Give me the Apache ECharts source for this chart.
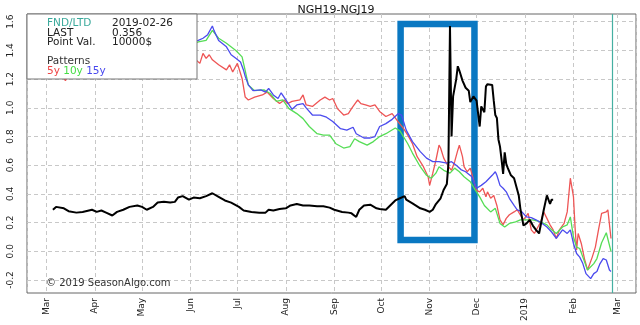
<!DOCTYPE html>
<html>
<head>
<meta charset="utf-8">
<script src="https://cdn.jsdelivr.net/npm/echarts@6/dist/echarts.min.js"></script>
<style>
  html, body { margin: 0; padding: 0; background: #fff; }
  #chart { width: 640px; height: 325px; }
</style>
</head>
<body>
<div id="chart"></div>
<script>
// NGH19-NGJ19 spread: current season vs 5y / 10y / 15y seasonal patterns
const chartTitle = 'NGH19-NGJ19';
const fndDate = '2019-02-26';
const lastValue = '0.356';
const pointValue = '10000$';
const yTicks = [-0.2, 0.0, 0.2, 0.4, 0.6, 0.8, 1.0, 1.2, 1.4, 1.6];
const highlightWindow = [['2018-10-13 10:00', 1.584], ['2018-11-29 16:00', 0.079]];

const actualSpread = [
  ['2018-03-05',0.29],['2018-03-07',0.31],['2018-03-12',0.30],['2018-03-15',0.28],['2018-03-20',0.27],
  ['2018-03-24',0.275],['2018-03-30',0.29],['2018-04-02',0.275],['2018-04-05',0.285],['2018-04-08',0.27],
  ['2018-04-12',0.25],['2018-04-15',0.275],['2018-04-19',0.29],['2018-04-23',0.31],['2018-04-28',0.32],
  ['2018-05-01',0.31],['2018-05-04',0.29],['2018-05-08',0.31],['2018-05-11',0.34],['2018-05-15',0.345],
  ['2018-05-19',0.34],['2018-05-22',0.345],['2018-05-24',0.375],['2018-05-27',0.385],['2018-05-31',0.36],
  ['2018-06-03',0.375],['2018-06-07',0.37],['2018-06-11',0.385],['2018-06-15',0.405],['2018-06-19',0.38],
  ['2018-06-23',0.355],['2018-06-27',0.34],['2018-07-02',0.31],['2018-07-05',0.285],['2018-07-10',0.275],
  ['2018-07-15',0.27],['2018-07-19',0.27],['2018-07-21',0.29],['2018-07-24',0.285],['2018-07-28',0.295],
  ['2018-08-01',0.30],['2018-08-04',0.32],['2018-08-08',0.33],['2018-08-12',0.32],['2018-08-16',0.32],
  ['2018-08-21',0.315],['2018-08-25',0.315],['2018-08-29',0.305],['2018-09-01',0.29],['2018-09-06',0.275],
  ['2018-09-10',0.27],['2018-09-12',0.265],['2018-09-15',0.24],['2018-09-17',0.29],['2018-09-20',0.32],
  ['2018-09-24',0.325],['2018-09-28',0.30],['2018-09-30',0.295],['2018-10-04',0.29],['2018-10-10',0.355],
  ['2018-10-13',0.37],['2018-10-16',0.385],['2018-10-17',0.36],['2018-10-21',0.335],['2018-10-26',0.30],
  ['2018-10-29',0.29],['2018-11-01',0.275],['2018-11-03',0.29],['2018-11-05',0.33],['2018-11-08',0.37],
  ['2018-11-10',0.43],['2018-11-12',0.47],['2018-11-13',0.61],['2018-11-14',1.57],['2018-11-15',0.80],
  ['2018-11-16',1.08],['2018-11-18',1.20],['2018-11-19',1.29],['2018-11-20',1.26],['2018-11-22',1.19],
  ['2018-11-24',1.14],['2018-11-26',1.12],['2018-11-27',1.04],['2018-11-29',1.08],['2018-12-01',1.05],
  ['2018-12-03',0.87],['2018-12-04',1.01],['2018-12-05',1.02],['2018-12-06',0.97],['2018-12-07',1.15],
  ['2018-12-08',1.165],['2018-12-11',1.16],['2018-12-12',1.05],['2018-12-13',0.95],['2018-12-14',0.93],
  ['2018-12-15',0.78],['2018-12-16',0.73],['2018-12-17',0.64],['2018-12-18',0.54],['2018-12-19',0.69],
  ['2018-12-20',0.61],['2018-12-21',0.58],['2018-12-23',0.53],['2018-12-25',0.51],['2018-12-27',0.43],
  ['2018-12-28',0.39],['2018-12-29',0.30],['2018-12-31',0.18],['2019-01-02',0.195],['2019-01-04',0.22],
  ['2019-01-06',0.18],['2019-01-08',0.15],['2019-01-10',0.125],['2019-01-11',0.18],['2019-01-13',0.29],
  ['2019-01-15',0.39],['2019-01-16',0.40],['2019-01-17',0.33],['2019-01-18',0.36],['2019-01-19',0.36]
];

const pattern5y = [
  ['2018-03-01',1.32],['2018-03-06',1.28],['2018-03-10',1.24],['2018-03-13',1.19],['2018-03-17',1.27],
  ['2018-03-24',1.33],['2018-03-31',1.36],['2018-04-07',1.31],['2018-04-14',1.35],['2018-04-21',1.38],
  ['2018-04-28',1.33],['2018-05-05',1.36],['2018-05-12',1.40],['2018-05-19',1.35],['2018-05-26',1.32],
  ['2018-06-02',1.36],['2018-06-07',1.31],['2018-06-09',1.38],['2018-06-11',1.345],['2018-06-13',1.37],
  ['2018-06-15',1.335],['2018-06-19',1.30],['2018-06-24',1.265],['2018-06-26',1.30],['2018-06-28',1.25],
  ['2018-07-01',1.31],['2018-07-04',1.205],['2018-07-06',1.075],['2018-07-08',1.055],['2018-07-12',1.075],
  ['2018-07-17',1.09],['2018-07-20',1.11],['2018-07-24',1.065],['2018-07-28',1.03],['2018-07-31',1.055],
  ['2018-08-02',1.03],['2018-08-05',1.045],['2018-08-10',1.055],['2018-08-12',1.09],['2018-08-14',1.02],
  ['2018-08-18',1.01],['2018-08-23',1.055],['2018-08-26',1.075],['2018-08-29',1.055],['2018-08-31',1.065],
  ['2018-09-03',0.995],['2018-09-07',0.95],['2018-09-10',0.96],['2018-09-12',0.995],['2018-09-16',1.055],
  ['2018-09-18',1.03],['2018-09-21',1.02],['2018-09-24',1.01],['2018-09-27',1.02],['2018-09-30',0.975],
  ['2018-10-04',0.94],['2018-10-08',0.96],['2018-10-12',0.90],['2018-10-15',0.86],['2018-10-18',0.81],
  ['2018-10-21',0.75],['2018-10-24',0.66],['2018-10-28',0.59],['2018-10-31',0.52],['2018-11-01',0.46],
  ['2018-11-03',0.545],['2018-11-05',0.635],['2018-11-07',0.74],['2018-11-08',0.72],['2018-11-10',0.65],
  ['2018-11-13',0.59],['2018-11-15',0.565],['2018-11-17',0.625],['2018-11-19',0.705],['2018-11-20',0.74],
  ['2018-11-22',0.66],['2018-11-23',0.59],['2018-11-25',0.555],['2018-11-27',0.58],['2018-11-29',0.50],
  ['2018-12-01',0.425],['2018-12-03',0.415],['2018-12-05',0.44],['2018-12-07',0.38],['2018-12-08',0.415],
  ['2018-12-10',0.37],['2018-12-12',0.39],['2018-12-14',0.32],['2018-12-16',0.22],['2018-12-18',0.185],
  ['2018-12-20',0.23],['2018-12-22',0.255],['2018-12-25',0.275],['2018-12-27',0.29],['2018-12-29',0.255],
  ['2018-12-31',0.22],['2019-01-03',0.265],['2019-01-05',0.15],['2019-01-07',0.125],['2019-01-11',0.205],
  ['2019-01-13',0.275],['2019-01-15',0.23],['2019-01-17',0.185],['2019-01-19',0.15],['2019-01-21',0.09],
  ['2019-01-23',0.15],['2019-01-26',0.195],['2019-01-28',0.275],['2019-01-30',0.51],['2019-02-01',0.38],
  ['2019-02-02',0.17],['2019-02-03',0.01],['2019-02-04',0.125],['2019-02-06',0.055],['2019-02-08',-0.05],
  ['2019-02-10',-0.13],['2019-02-13',-0.04],['2019-02-15',0.03],['2019-02-17',0.15],['2019-02-19',0.265],
  ['2019-02-22',0.275],['2019-02-23',0.29],['2019-02-25',0.09]
];

const pattern10y = [
  ['2018-03-01',1.40],['2018-03-08',1.43],['2018-03-15',1.41],['2018-03-22',1.45],['2018-03-29',1.43],
  ['2018-04-05',1.40],['2018-04-12',1.39],['2018-04-19',1.42],['2018-04-26',1.45],['2018-05-03',1.42],
  ['2018-05-10',1.40],['2018-05-17',1.44],['2018-05-24',1.46],['2018-05-31',1.43],['2018-06-06',1.46],
  ['2018-06-11',1.47],['2018-06-15',1.54],['2018-06-19',1.485],['2018-06-24',1.45],['2018-06-30',1.40],
  ['2018-07-04',1.355],['2018-07-06',1.26],['2018-07-08',1.16],['2018-07-12',1.12],['2018-07-18',1.125],
  ['2018-07-22',1.10],['2018-07-26',1.045],['2018-07-30',1.055],['2018-08-03',0.995],['2018-08-08',0.96],
  ['2018-08-12',0.925],['2018-08-16',0.87],['2018-08-21',0.82],['2018-08-25',0.81],['2018-08-29',0.81],
  ['2018-09-02',0.75],['2018-09-07',0.72],['2018-09-11',0.73],['2018-09-14',0.785],['2018-09-17',0.765],
  ['2018-09-22',0.74],['2018-09-26',0.765],['2018-09-30',0.80],['2018-10-04',0.82],['2018-10-10',0.86],
  ['2018-10-13',0.84],['2018-10-18',0.75],['2018-10-21',0.685],['2018-10-26',0.59],['2018-10-30',0.53],
  ['2018-11-02',0.51],['2018-11-05',0.545],['2018-11-07',0.59],['2018-11-10',0.565],['2018-11-14',0.545],
  ['2018-11-17',0.58],['2018-11-20',0.555],['2018-11-23',0.52],['2018-11-27',0.485],['2018-11-30',0.43],
  ['2018-12-03',0.38],['2018-12-06',0.32],['2018-12-10',0.275],['2018-12-13',0.30],['2018-12-16',0.195],
  ['2018-12-19',0.17],['2018-12-22',0.195],['2018-12-26',0.205],['2018-12-29',0.22],['2019-01-02',0.22],
  ['2019-01-06',0.22],['2019-01-11',0.205],['2019-01-15',0.185],['2019-01-18',0.15],['2019-01-21',0.125],
  ['2019-01-25',0.17],['2019-01-28',0.185],['2019-01-30',0.24],['2019-02-01',0.10],['2019-02-03',0.03],
  ['2019-02-05',0.02],['2019-02-07',-0.04],['2019-02-10',-0.13],['2019-02-14',-0.085],['2019-02-16',-0.05],
  ['2019-02-19',0.06],['2019-02-22',0.13],['2019-02-23',0.14],['2019-02-25',0.0]
];

const pattern15y = [
  ['2018-03-01',1.44],['2018-03-08',1.47],['2018-03-15',1.45],['2018-03-22',1.50],['2018-03-29',1.48],
  ['2018-04-05',1.45],['2018-04-12',1.43],['2018-04-19',1.47],['2018-04-26',1.50],['2018-05-03',1.46],
  ['2018-05-10',1.44],['2018-05-17',1.48],['2018-05-24',1.50],['2018-05-31',1.46],['2018-06-06',1.47],
  ['2018-06-09',1.485],['2018-06-12',1.51],['2018-06-15',1.57],['2018-06-16',1.54],['2018-06-19',1.47],
  ['2018-06-24',1.425],['2018-06-27',1.37],['2018-06-30',1.345],['2018-07-03',1.32],['2018-07-05',1.26],
  ['2018-07-06',1.22],['2018-07-08',1.16],['2018-07-11',1.12],['2018-07-16',1.125],['2018-07-19',1.11],
  ['2018-07-21',1.135],['2018-07-24',1.09],['2018-07-27',1.065],['2018-07-29',1.105],['2018-08-01',1.055],
  ['2018-08-05',0.99],['2018-08-08',1.02],['2018-08-12',1.03],['2018-08-14',1.0],['2018-08-18',0.95],
  ['2018-08-23',0.95],['2018-08-27',0.935],['2018-08-31',0.905],['2018-09-05',0.855],['2018-09-09',0.845],
  ['2018-09-13',0.865],['2018-09-15',0.82],['2018-09-20',0.79],['2018-09-24',0.79],['2018-09-27',0.80],
  ['2018-09-30',0.87],['2018-10-04',0.89],['2018-10-08',0.92],['2018-10-12',0.96],['2018-10-14',0.95],
  ['2018-10-17',0.845],['2018-10-21',0.765],['2018-10-26',0.695],['2018-10-30',0.65],['2018-11-03',0.625],
  ['2018-11-07',0.625],['2018-11-12',0.615],['2018-11-15',0.625],['2018-11-18',0.60],['2018-11-21',0.57],
  ['2018-11-24',0.555],['2018-11-28',0.52],['2018-12-01',0.44],['2018-12-04',0.46],['2018-12-07',0.485],
  ['2018-12-11',0.53],['2018-12-13',0.555],['2018-12-14',0.53],['2018-12-16',0.46],['2018-12-18',0.44],
  ['2018-12-20',0.415],['2018-12-22',0.37],['2018-12-25',0.32],['2018-12-27',0.29],['2018-12-30',0.275],
  ['2019-01-02',0.24],['2019-01-05',0.235],['2019-01-08',0.22],['2019-01-12',0.195],['2019-01-15',0.17],
  ['2019-01-18',0.135],['2019-01-21',0.09],['2019-01-25',0.15],['2019-01-28',0.125],['2019-01-30',0.15],
  ['2019-02-01',0.055],['2019-02-03',-0.015],['2019-02-05',-0.04],['2019-02-07',-0.085],['2019-02-09',-0.155],
  ['2019-02-12',-0.19],['2019-02-14',-0.155],['2019-02-16',-0.14],['2019-02-18',-0.085],['2019-02-20',-0.05],
  ['2019-02-22',-0.06],['2019-02-24',-0.13],['2019-02-25',-0.14]
];

const FONT = 'DejaVu Sans';
const BOX_FONT = '10.5px "DejaVu Sans"';
const xMin = new Date(2018, 1, 16, 10).getTime();
const xMax = new Date(2019, 2, 13, 0).getTime();

const chart = echarts.init(document.getElementById('chart'), null, { renderer: 'canvas' });

const dashed = { color: '#c8c8c8', type: [4, 3], width: 1 };

function line(name, data, color, width, extra) {
  return Object.assign({
    name, type: 'line', data, xAxisIndex: 0, yAxisIndex: 0,
    showSymbol: false, symbol: 'none', animation: false,
    lineStyle: { color, width }, itemStyle: { color }
  }, extra || {});
}

function boxText(x, y, text, fill) {
  return { type: 'text', x, y, z: 101, zlevel: 2, style: { text, fill, font: BOX_FONT } };
}

chart.setOption({
  animation: false,
  backgroundColor: '#fff',
  title: {
    text: chartTitle, left: 331, top: 0, textAlign: 'center',
    textStyle: { fontFamily: FONT, fontSize: 11, fontWeight: 'normal', color: '#111' }
  },
  grid: [
    { left: 27, right: 4, top: 14, bottom: 32, show: true, borderColor: '#666', borderWidth: 1, backgroundColor: 'transparent' },
    { left: 27, right: 4, top: 21.7, bottom: 45, show: false }
  ],
  xAxis: [
    {
      type: 'time', gridIndex: 0, min: xMin, max: xMax, splitNumber: 13,
      minInterval: 28 * 864e5, maxInterval: 31 * 864e5,
      axisLine: { show: false }, axisTick: { show: false },
      splitLine: { show: true, lineStyle: dashed },
      axisLabel: {
        rotate: 90, margin: 5, fontFamily: FONT, fontSize: 9, color: '#222',
        formatter: (v) => {
          const d = new Date(v);
          if (d.getMonth() === 0) return String(d.getFullYear());
          return ['Jan','Feb','Mar','Apr','May','Jun','Jul','Aug','Sep','Oct','Nov','Dec'][d.getMonth()];
        }
      }
    },
    { type: 'time', gridIndex: 1, min: xMin, max: xMax, show: false }
  ],
  yAxis: [
    { type: 'value', gridIndex: 0, min: -0.29, max: 1.654, show: false, splitLine: { show: false } },
    {
      type: 'value', gridIndex: 1, min: yTicks[0], max: yTicks[yTicks.length - 1], interval: 0.2,
      axisLine: { show: false }, axisTick: { show: false },
      splitLine: { show: true, lineStyle: dashed },
      axisLabel: {
        rotate: 90, margin: 12, fontFamily: FONT, fontSize: 9, color: '#222',
        formatter: (v) => v.toFixed(1)
      }
    }
  ],
  series: [
    line('5y', pattern5y, '#ee5555', 1.3),
    line('10y', pattern10y, '#55dd55', 1.3),
    line('15y', pattern15y, '#4b4bee', 1.3),
    line('NGH19-NGJ19', actualSpread, '#000', 2, {
      markLine: {
        silent: true, symbol: 'none', label: { show: false },
        lineStyle: { color: '#45b0a2', type: 'solid', width: 1.2 },
        data: [{ xAxis: fndDate }]
      },
      markArea: {
        silent: true, label: { show: false },
        itemStyle: { color: 'rgba(0,0,0,0)', borderColor: '#0a78c2', borderWidth: 6.5 },
        data: [[{ coord: highlightWindow[0] }, { coord: highlightWindow[1] }]]
      }
    })
  ],
  graphic: [
    {
      type: 'rect', x: 27, y: 14, z: 100, zlevel: 2,
      shape: { x: 0, y: 0, width: 170, height: 65 },
      style: { fill: '#ffffff', stroke: '#777', lineWidth: 1 }
    },
    boxText(47, 18, 'FND/LTD', '#3aa99b'),
    boxText(112, 18, fndDate, '#222'),
    boxText(47, 28, 'LAST', '#222'),
    boxText(112, 28, lastValue, '#222'),
    boxText(47, 37, 'Point Val.', '#222'),
    boxText(112, 37, pointValue, '#222'),
    boxText(47, 56, 'Patterns', '#333'),
    {
      type: 'text', x: 47, y: 66, z: 101, zlevel: 2,
      style: {
        text: '{r|5y} {g|10y} {b|15y}', font: BOX_FONT,
        rich: {
          r: { fill: '#ee4444', font: BOX_FONT },
          g: { fill: '#44dd44', font: BOX_FONT },
          b: { fill: '#4848ee', font: BOX_FONT }
        }
      }
    },
    {
      type: 'text', x: 46, y: 278, z: 100, zlevel: 2,
      style: { text: '\u00a9 2019 SeasonAlgo.com', fill: '#333', font: '10px "DejaVu Sans"' }
    }
  ]
});
</script>
</body>
</html>
